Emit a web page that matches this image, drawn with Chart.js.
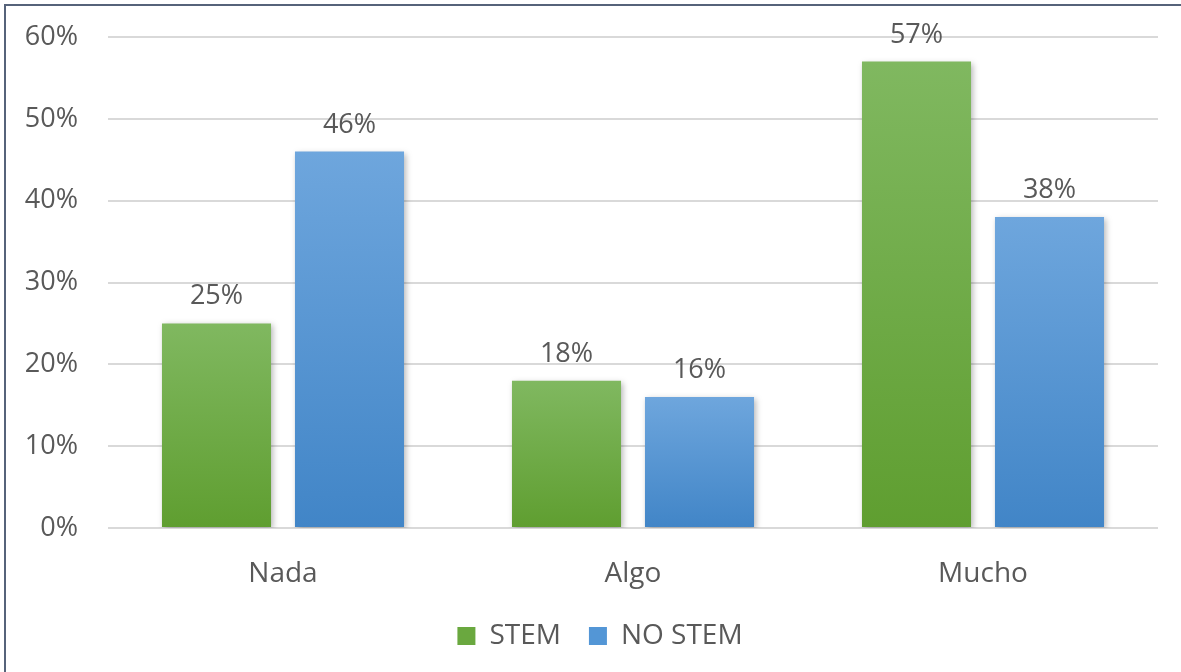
<!DOCTYPE html>
<html>
<head>
<meta charset="utf-8">
<script src="https://cdn.jsdelivr.net/npm/chart.js@4"></script>
<style>
  html, body { margin: 0; padding: 0; background: #fff; overflow: hidden; }
  #frame {
    position: absolute; left: 4px; top: 4px; width: 1190px; height: 680px;
    border: 2px solid #56637a; box-sizing: border-box;
  }
  #chart { position: absolute; left: 0; top: 0; }
</style>
</head>
<body>
<div id="frame"></div>
<canvas id="chart" width="1181" height="672"></canvas>
<script>
const categories = ['Nada', 'Algo', 'Mucho'];
const stemValues = [25, 18, 57];
const noStemValues = [46, 16, 38];
const yTicks = [0, 10, 20, 30, 40, 50, 60];

const FONT = "'Open Sans', 'Noto Sans', sans-serif";
const TEXT = '#595959';

// vertical gradient per bar, from its top down to the baseline
function barGradient(top, bottom) {
  return (context) => {
    const chart = context.chart;
    const { ctx, chartArea, scales } = chart;
    if (!chartArea || !scales.y) return bottom;
    const yTop = scales.y.getPixelForValue(context.raw);
    const yBase = scales.y.getPixelForValue(0);
    const g = ctx.createLinearGradient(0, yTop, 0, yBase);
    g.addColorStop(0, top);
    g.addColorStop(1, bottom);
    return g;
  };
}

// soft shadow under the bars
const barShadow = {
  id: 'barShadow',
  beforeDatasetsDraw(chart) {
    const ctx = chart.ctx;
    ctx.save();
    ctx.shadowColor = 'rgba(0,0,0,0.28)';
    ctx.shadowBlur = 6;
    ctx.shadowOffsetX = 2;
    ctx.shadowOffsetY = 2;
  },
  afterDatasetsDraw(chart) {
    chart.ctx.restore();
  },
};

// percentage labels above each bar
const valueLabels = {
  id: 'valueLabels',
  afterDatasetsDraw(chart) {
    const ctx = chart.ctx;
    ctx.save();
    ctx.font = `27px ${FONT}`;
    ctx.fillStyle = TEXT;
    ctx.textAlign = 'center';
    ctx.textBaseline = 'alphabetic';
    chart.data.datasets.forEach((ds, i) => {
      chart.getDatasetMeta(i).data.forEach((bar, j) => {
        ctx.fillText(ds.data[j] + '%', bar.x, bar.y - 19);
      });
    });
    ctx.restore();
  },
};

// legend sits a little right of the plot centre
const legendNudge = {
  id: 'legendNudge',
  afterLayout(chart) {
    chart.legend.left += 11;
    chart.legend.right += 11;
  },
};

const config = {
  type: 'bar',
  data: {
    labels: categories,
    datasets: [
      {
        label: 'STEM',
        data: stemValues,
        backgroundColor: barGradient('#80b860', '#5f9e30'),
        categoryPercentage: 0.76,
        barPercentage: 0.82,
      },
      {
        label: 'NO STEM',
        data: noStemValues,
        backgroundColor: barGradient('#6ea6dd', '#4185c7'),
        categoryPercentage: 0.76,
        barPercentage: 0.82,
      },
    ],
  },
  options: {
    responsive: false,
    animation: false,
    devicePixelRatio: 1,
    layout: { padding: { top: 37, right: 23, bottom: 12, left: 20 } },
    scales: {
      x: {
        afterFit: (scale) => { scale.height = 66; },
        grid: { display: false },
        border: { display: false },
        ticks: { color: TEXT, font: { family: FONT, size: 28 }, padding: 21 },
      },
      y: {
        min: 0,
        max: 60,
        afterBuildTicks: (scale) => {
          scale.ticks = yTicks.map((v) => ({ value: v }));
        },
        afterFit: (scale) => {
          scale.width = 88;
          scale.paddingTop = 0;
          scale.paddingBottom = 0;
        },
        grid: { color: '#d9d9d9', lineWidth: 2, drawTicks: false },
        border: { display: false },
        ticks: {
          color: TEXT,
          font: { family: FONT, size: 27 },
          padding: 30,
          callback: (v) => v + '%',
        },
      },
    },
    plugins: {
      legend: {
        position: 'bottom',
        labels: {
          color: TEXT,
          font: { family: FONT, size: 28 },
          boxWidth: 18,
          boxHeight: 18,
          padding: 28,
          generateLabels: (chart) => [
            { text: 'STEM', fillStyle: '#6aa83f', strokeStyle: '#6aa83f', lineWidth: 0, datasetIndex: 0, fontColor: TEXT },
            { text: 'NO STEM', fillStyle: '#5396d6', strokeStyle: '#5396d6', lineWidth: 0, datasetIndex: 1, fontColor: TEXT },
          ],
        },
      },
      tooltip: { enabled: false },
    },
  },
  plugins: [barShadow, valueLabels, legendNudge],
};

new Chart(document.getElementById('chart'), config);
</script>
</body>
</html>
